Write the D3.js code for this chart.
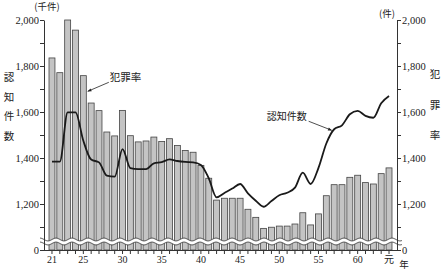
<!DOCTYPE html>
<html><head><meta charset="utf-8">
<script src="https://cdn.jsdelivr.net/npm/d3@7"></script>
<style>
html,body{margin:0;padding:0;background:#fff;}
svg{display:block;}
.num{font-family:"Liberation Serif","DejaVu Serif",serif;fill:#222;}
.jp{font-family:"Noto Sans CJK JP",sans-serif;fill:#222;}
</style></head>
<body>
<svg id="c" width="443" height="271"></svg>
<script>
// Showa 21 .. 63, Heisei 元
const years = ["21","22","23","24","25","26","27","28","29","30","31","32","33","34","35","36","37","38","39","40","41","42","43","44","45","46","47","48","49","50","51","52","53","54","55","56","57","58","59","60","61","62","63","元"];
const xTickLabels = ["21","25","30","35","40","45","50","55","60","元"];
// 犯罪率 (bars, right axis, 件)
const crimeRate = [1835,1771,2000,1956,1758,1639,1606,1513,1496,1607,1497,1470,1474,1491,1472,1484,1454,1433,1425,1368,1312,1217,1225,1225,1225,1177,1142,1094,1099,1104,1104,1113,1162,1109,1157,1236,1284,1284,1316,1325,1293,1287,1332,1357];
// 認知件数 (line, left axis, 千件)
const recognized = [1384,1384,1598,1598,1475,1393,1381,1323,1319,1439,1356,1352,1352,1377,1382,1394,1387,1383,1381,1370,1312,1229,1248,1267,1287,1246,1214,1188,1213,1238,1249,1271,1336,1287,1357,1463,1525,1542,1590,1605,1583,1575,1638,1670];
const yTickValues = [1000,1100,1200,1300,1400,1500,1600,1700,1800,1900,2000];
const yLabelValues = [1000,1200,1400,1600,1800,2000];
const yLabels = ["0","1,200","1,400","1,600","1,800","2,000"];

const svg = d3.select("#c");
const L = 44, R = 397, T = 20, B = 250;
const x = d3.scaleBand().domain(years).range([49, 392]).paddingInner(0.24).paddingOuter(0);
const y = d3.scaleLinear().domain([1000, 2000]).range([B, T]);
const bw = x.bandwidth();
const cx = d => x(d) + bw / 2;

// bars
svg.append("g").selectAll("rect").data(years).join("rect")
  .attr("x", d => x(d)).attr("width", bw)
  .attr("y", (d, i) => y(crimeRate[i]))
  .attr("height", (d, i) => B - y(crimeRate[i]))
  .attr("fill", "#c4c4c4").attr("stroke", "#444").attr("stroke-width", 0.8);

// wavy break
(function(){
  const y1 = 239.5, y2 = 243.5, amp = 1.4, per = 16;
  const pts1 = [], pts2 = [];
  for (let px = L - 4; px <= R + 5; px += 0.5) {
    const s = amp * Math.sin((px - L) / per * 2 * Math.PI);
    pts1.push([px, y1 + s]); pts2.push([px, y2 + s]);
  }
  const ln = d3.line();
  svg.append("path").attr("d", ln(pts1.concat(pts2.slice().reverse())) + "Z").attr("fill", "#fff");
  svg.append("path").attr("d", ln(pts1)).attr("fill", "none").attr("stroke", "#333").attr("stroke-width", 0.9);
  svg.append("path").attr("d", ln(pts2)).attr("fill", "none").attr("stroke", "#333").attr("stroke-width", 0.9);
})();

// line
svg.append("path")
  .datum(years)
  .attr("d", d3.line().x(d => cx(d)).y((d, i) => y(recognized[i])).curve(d3.curveMonotoneX))
  .attr("fill", "none").attr("stroke", "#1a1a1a").attr("stroke-width", 1.8);

// axes
const fmt = d => { const k = yLabelValues.indexOf(d); return k >= 0 ? yLabels[k] : ""; };
const gl = svg.append("g").attr("transform", `translate(${L},0)`)
  .call(d3.axisLeft(y).tickValues(yTickValues).tickSize(4).tickSizeOuter(0).tickFormat(fmt));
const gr = svg.append("g").attr("transform", `translate(${R},0)`)
  .call(d3.axisRight(y).tickValues(yTickValues).tickSize(4).tickSizeOuter(0).tickFormat(fmt));
[gl, gr].forEach(g => {
  g.select(".domain").attr("stroke", "#333");
  g.selectAll(".tick line").attr("stroke", "#333");
  g.selectAll("text").attr("class", "num").attr("font-size", 10.5).attr("fill", "#222");
});
gl.selectAll("text").attr("x", -5);
gr.selectAll("text").attr("x", 5);

const gx = svg.append("g").attr("transform", `translate(0,${B})`)
  .call(d3.axisBottom(x).tickSize(4).tickSizeOuter(0).tickFormat(d => xTickLabels.includes(d) ? d : ""));
gx.select(".domain").attr("d", `M${L},0.5H${R}`).attr("stroke", "#333");
gx.selectAll(".tick line").attr("stroke", "#333");
gx.selectAll("text").attr("class", d => d === "元" ? "jp" : "num").attr("font-size", 10).attr("fill", "#222").attr("y", 6);

svg.append("text").attr("class", "jp").attr("x", 404).attr("y", 268).attr("font-size", 9.5).attr("text-anchor", "middle").text("年");

// unit labels
svg.append("text").attr("class", "jp").attr("x", 47).attr("y", 10).attr("font-size", 9.5).attr("text-anchor", "middle").text("(千件)");
svg.append("text").attr("class", "jp").attr("x", 387).attr("y", 17).attr("font-size", 9.5).attr("text-anchor", "middle").text("(件)");

// vertical axis titles
[["認", 81], ["知", 101], ["件", 120], ["数", 140]].forEach(([c, yy]) =>
  svg.append("text").attr("class", "jp").attr("x", 9).attr("y", yy).attr("font-size", 10.5).attr("text-anchor", "middle").text(c));
[["犯", 78], ["罪", 109], ["率", 139]].forEach(([c, yy]) =>
  svg.append("text").attr("class", "jp").attr("x", 435).attr("y", yy).attr("font-size", 10.5).attr("text-anchor", "middle").text(c));

// annotations
const defs = svg.append("defs");
defs.append("marker").attr("id", "ah").attr("viewBox", "0 0 10 10").attr("refX", 9).attr("refY", 5)
  .attr("markerWidth", 6).attr("markerHeight", 5).attr("orient", "auto")
  .append("path").attr("d", "M0,1L10,5L0,9Z").attr("fill", "#222");

const a1end = [x("25") + bw + 1.5, y(1690)];
svg.append("line").attr("x1", a1end[0] + 21).attr("y1", a1end[1] - 9).attr("x2", a1end[0]).attr("y2", a1end[1])
  .attr("stroke", "#222").attr("stroke-width", 0.8).attr("marker-end", "url(#ah)");
svg.append("text").attr("class", "jp").attr("x", a1end[0] + 22).attr("y", a1end[1] - 10).attr("font-size", 10.5).text("犯罪率");

const a2end = [cx("57") - 2.5, y(1525) + 1];
svg.append("line").attr("x1", a2end[0] - 23).attr("y1", a2end[1] - 9).attr("x2", a2end[0]).attr("y2", a2end[1])
  .attr("stroke", "#222").attr("stroke-width", 0.8).attr("marker-end", "url(#ah)");
svg.append("text").attr("class", "jp").attr("x", a2end[0] - 25).attr("y", a2end[1] - 10).attr("font-size", 10).attr("text-anchor", "end").text("認知件数");
</script>
</body></html>
